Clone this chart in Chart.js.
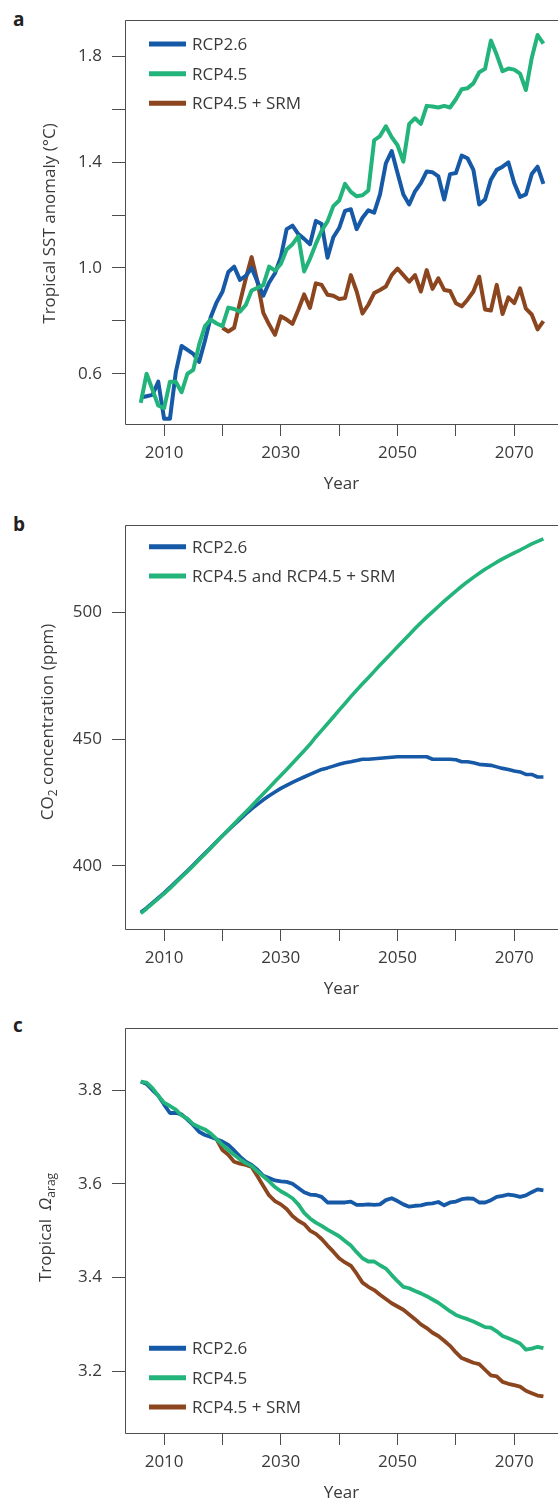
<!DOCTYPE html>
<html>
<head>
<meta charset="utf-8">
<script src="https://cdn.jsdelivr.net/npm/chart.js@4.4.1/dist/chart.umd.min.js"></script>
<style>
  html, body { margin: 0; padding: 0; background: #fff; overflow: hidden; }
  body { width: 558px; height: 1499px; position: relative; }
  canvas { position: absolute; left: 0; }
  .tag { position: absolute; left: 13px; font: bold 19px 'Open Sans', sans-serif; line-height: 19px; color: #222; }
</style>
</head>
<body>
<div class="tag" style="top:10px">a</div>
<div class="tag" style="top:515px">b</div>
<div class="tag" style="top:1016px">c</div>
<canvas id="chart-sst" width="558" height="500" style="top:0"></canvas>
<canvas id="chart-co2" width="558" height="500" style="top:505px"></canvas>
<canvas id="chart-omega" width="558" height="501" style="top:1008px"></canvas>
<script>
// ── data (one value per year) ──
const years = [2006, 2007, 2008, 2009, 2010, 2011, 2012, 2013, 2014, 2015,
  2016, 2017, 2018, 2019, 2020, 2021, 2022, 2023, 2024, 2025,
  2026, 2027, 2028, 2029, 2030, 2031, 2032, 2033, 2034, 2035,
  2036, 2037, 2038, 2039, 2040, 2041, 2042, 2043, 2044, 2045,
  2046, 2047, 2048, 2049, 2050, 2051, 2052, 2053, 2054, 2055,
  2056, 2057, 2058, 2059, 2060, 2061, 2062, 2063, 2064, 2065,
  2066, 2067, 2068, 2069, 2070, 2071, 2072, 2073, 2074, 2075];

// a: tropical SST anomaly (°C)
const sstRcp26 = [0.51, 0.515, 0.52, 0.57, 0.43, 0.43, 0.605, 0.705, 0.69, 0.675,
  0.645, 0.725, 0.815, 0.87, 0.91, 0.985, 1.005, 0.955, 0.97, 1.0,
  0.948, 0.895, 0.945, 0.98, 1.04, 1.147, 1.16, 1.128, 1.11, 1.09,
  1.178, 1.166, 1.039, 1.116, 1.151, 1.216, 1.222, 1.147, 1.19, 1.218,
  1.209, 1.278, 1.396, 1.442, 1.359, 1.278, 1.24, 1.29, 1.321, 1.365,
  1.362, 1.346, 1.259, 1.355, 1.359, 1.425, 1.415, 1.371, 1.24, 1.259,
  1.334, 1.371, 1.383, 1.399, 1.321, 1.269, 1.278, 1.355, 1.383, 1.318];
const sstRcp45 = [0.49, 0.60, 0.54, 0.48, 0.47, 0.57, 0.57, 0.53, 0.60, 0.615,
  0.71, 0.78, 0.805, 0.79, 0.78, 0.85, 0.845, 0.835, 0.86, 0.915,
  0.925, 0.935, 1.005, 0.99, 1.015, 1.07, 1.09, 1.12, 0.987, 1.035,
  1.091, 1.141, 1.176, 1.234, 1.255, 1.318, 1.288, 1.271, 1.275, 1.293,
  1.483, 1.499, 1.536, 1.495, 1.464, 1.402, 1.545, 1.566, 1.545, 1.613,
  1.611, 1.607, 1.613, 1.607, 1.638, 1.676, 1.68, 1.698, 1.74, 1.753,
  1.86, 1.806, 1.744, 1.754, 1.75, 1.735, 1.673, 1.794, 1.881, 1.848];
const sstSrm = [null, null, null, null, null, null, null, null, null, null,
  null, null, null, null, 0.774, 0.76, 0.774, 0.87, 0.96, 1.041,
  0.948, 0.83, 0.786, 0.747, 0.817, 0.805, 0.789, 0.842, 0.90, 0.849,
  0.942, 0.936, 0.899, 0.895, 0.883, 0.886, 0.973, 0.911, 0.828, 0.861,
  0.905, 0.917, 0.93, 0.973, 0.998, 0.973, 0.948, 0.973, 0.911, 0.992,
  0.921, 0.961, 0.917, 0.913, 0.867, 0.855, 0.88, 0.911, 0.967, 0.843,
  0.839, 0.936, 0.826, 0.889, 0.867, 0.923, 0.846, 0.824, 0.768, 0.799];

// b: CO2 concentration (ppm)
const co2Rcp26 = [381.5, 383.3, 385.3, 387.3, 389.3, 391.4, 393.6, 395.8, 398.0, 400.3,
  402.6, 404.9, 407.2, 409.5, 411.8, 414.0, 416.2, 418.3, 420.4, 422.4,
  424.2, 426.0, 427.6, 429.1, 430.5, 431.7, 432.9, 434.0, 435.0, 436.0,
  437.0, 438.0, 438.6, 439.3, 440.0, 440.6, 441.0, 441.5, 442.0, 442.0,
  442.2, 442.4, 442.6, 442.8, 443.0, 443.0, 443.0, 443.0, 443.0, 443.0,
  442.0, 442.0, 442.0, 442.0, 441.8, 441.0, 441.0, 440.6, 440.0, 439.8,
  439.6, 439.0, 438.4, 438.0, 437.4, 437.0, 436.0, 436.0, 435.0, 435.0];
const co2Rcp45 = [381.2, 383.0, 385.0, 387.0, 389.0, 391.0, 393.3, 395.5, 397.7, 400.0,
  402.3, 404.6, 407.0, 409.4, 411.8, 414.2, 416.5, 418.9, 421.2, 423.6,
  426.0, 428.4, 430.8, 433.2, 435.6, 438.0, 440.4, 442.9, 445.4, 447.9,
  450.8, 453.4, 456.0, 458.7, 461.4, 464.0, 466.7, 469.3, 471.8, 474.2,
  476.7, 479.2, 481.6, 484.0, 486.4, 488.8, 491.2, 493.6, 495.9, 498.1,
  500.2, 502.3, 504.4, 506.4, 508.4, 510.3, 512.1, 513.8, 515.4, 517.0,
  518.4, 519.8, 521.1, 522.3, 523.5, 524.6, 525.8, 527.0, 528.0, 529.0];

// c: tropical aragonite saturation
const omegaRcp26 = [3.818, 3.813, 3.80, 3.788, 3.769, 3.751, 3.751, 3.748, 3.737, 3.725,
  3.711, 3.704, 3.70, 3.695, 3.69, 3.683, 3.671, 3.658, 3.647, 3.64,
  3.63, 3.617, 3.612, 3.607, 3.605, 3.604, 3.60, 3.591, 3.582, 3.577,
  3.576, 3.572, 3.56, 3.56, 3.56, 3.56, 3.562, 3.555, 3.555, 3.556,
  3.555, 3.556, 3.565, 3.569, 3.563, 3.556, 3.551, 3.553, 3.554, 3.557,
  3.558, 3.561, 3.554, 3.56, 3.562, 3.567, 3.569, 3.568, 3.56, 3.56,
  3.565, 3.572, 3.574, 3.577, 3.575, 3.572, 3.575, 3.582, 3.588, 3.586];
const omegaRcp45 = [3.818, 3.816, 3.804, 3.788, 3.773, 3.766, 3.758, 3.746, 3.739, 3.727,
  3.721, 3.716, 3.707, 3.695, 3.683, 3.672, 3.662, 3.652, 3.644, 3.638,
  3.626, 3.616, 3.605, 3.593, 3.584, 3.577, 3.569, 3.556, 3.538, 3.526,
  3.517, 3.51, 3.502, 3.495, 3.488, 3.478, 3.468, 3.454, 3.441, 3.434,
  3.434, 3.426, 3.419, 3.405, 3.392, 3.38, 3.377, 3.371, 3.366, 3.36,
  3.353, 3.346, 3.337, 3.328, 3.32, 3.315, 3.311, 3.306, 3.30, 3.294,
  3.293, 3.285, 3.275, 3.27, 3.265, 3.259, 3.246, 3.248, 3.252, 3.249];
const omegaSrm = [null, null, null, null, null, null, null, null, null, null,
  null, null, null, 3.695, 3.672, 3.662, 3.647, 3.643, 3.64, 3.636,
  3.616, 3.595, 3.575, 3.563, 3.556, 3.546, 3.531, 3.521, 3.514, 3.50,
  3.493, 3.482, 3.468, 3.455, 3.441, 3.432, 3.425, 3.408, 3.389, 3.38,
  3.373, 3.363, 3.354, 3.345, 3.338, 3.331, 3.321, 3.311, 3.30, 3.292,
  3.282, 3.275, 3.265, 3.254, 3.24, 3.228, 3.223, 3.218, 3.215, 3.203,
  3.191, 3.189, 3.177, 3.173, 3.17, 3.167, 3.158, 3.153, 3.148, 3.146];

// ── ticks ──
const xTickYears = [2010, 2020, 2030, 2040, 2050, 2060, 2070];
const xTickLabels = ["2010", "", "2030", "", "2050", "", "2070"];
const sstTicks = [0.6, 0.8, 1.0, 1.2, 1.4, 1.6, 1.8];
const sstTickLabels = ["0.6", "", "1.0", "", "1.4", "", "1.8"];
const co2Ticks = [400, 450, 500];
const co2TickLabels = ["400", "450", "500"];
const omegaTicks = [3.2, 3.4, 3.6, 3.8];
const omegaTickLabels = ["3.2", "3.4", "3.6", "3.8"];

const BLUE = "#1659a6";
const GREEN = "#22b47a";
const BROWN = "#8b451f";
const AXIS = "#4d4d4d";
const TEXT = "#3a3a3a";

Chart.defaults.font.family = "'Open Sans', sans-serif";
Chart.defaults.font.size = 17;
Chart.defaults.color = TEXT;

const toPoints = vals => years.map((y, i) => ({ x: y, y: vals[i] }));

// frame (top/left/bottom; the right edge runs off the page), legend and rich y title
const decor = {
  id: "decor",
  afterDraw(chart, args, opts) {
    const { ctx, chartArea: a } = chart;
    ctx.save();
    ctx.strokeStyle = AXIS;
    ctx.lineWidth = 1;
    const l = Math.round(a.left) + 0.5, t = Math.round(a.top) + 0.5, b = Math.round(a.bottom) + 0.5;
    ctx.beginPath();
    ctx.moveTo(chart.width + 5, t); ctx.lineTo(l, t); ctx.lineTo(l, b); ctx.lineTo(chart.width + 5, b);
    ctx.stroke();

    // legend
    ctx.font = "17px 'Open Sans', sans-serif";
    ctx.textBaseline = "middle";
    ctx.fillStyle = TEXT;
    opts.legend.forEach((item, i) => {
      const y = opts.legendY[i];
      ctx.strokeStyle = item.color;
      ctx.lineWidth = 5;
      ctx.beginPath(); ctx.moveTo(149, y); ctx.lineTo(186, y); ctx.stroke();
      ctx.fillText(item.label, 192, y + 1);
    });

    // rotated y-axis title with sub/italic parts
    ctx.translate(opts.titleX, opts.titleY);
    ctx.rotate(-Math.PI / 2);
    ctx.textBaseline = "alphabetic";
    const fontOf = s => (s.italic ? "italic " : "") + (s.sub ? "12px" : "17px") + " 'Open Sans', sans-serif";
    let total = 0;
    opts.title.forEach(s => { ctx.font = fontOf(s); total += ctx.measureText(s.text).width; });
    let cx = -total / 2;
    opts.title.forEach(s => {
      ctx.font = fontOf(s);
      ctx.fillText(s.text, cx, s.sub ? 4 : 0);
      cx += ctx.measureText(s.text).width;
    });
    ctx.restore();
  }
};

function makePanel(id, datasets, y, extra) {
  return new Chart(document.getElementById(id), {
    type: "line",
    data: { datasets },
    options: {
      responsive: false,
      animation: false,
      devicePixelRatio: 1,
      events: [],
      layout: { padding: { top: 15, right: 0, bottom: 0, left: 0 } },
      elements: { point: { radius: 0 }, line: { tension: 0, borderJoinStyle: "round" } },
      plugins: { legend: { display: false }, tooltip: { enabled: false }, decor: extra },
      scales: {
        x: {
          type: "linear", min: 2003.3, max: 2077.5,
          afterBuildTicks: ax => { ax.ticks = xTickYears.map(v => ({ value: v })); },
          afterFit: sc => { sc.height = 76; },
          ticks: { padding: 7, maxRotation: 0, autoSkip: false, callback: (v, i) => xTickLabels[i] },
          grid: { drawOnChartArea: false, drawTicks: true, tickLength: 12, color: AXIS },
          border: { display: false },
          title: { display: true, text: "Year", padding: { top: 0, bottom: 6 } }
        },
        y: {
          type: "linear", min: y.min, max: y.max,
          afterBuildTicks: ax => { ax.ticks = y.ticks.map(v => ({ value: v })); },
          afterFit: sc => { sc.width = 125; },
          ticks: { padding: 10, autoSkip: false, callback: (v, i) => y.labels[i] },
          grid: { drawOnChartArea: false, drawTicks: true, tickLength: 13, color: AXIS },
          border: { display: false }
        }
      }
    },
    plugins: [decor]
  });
}

const line = (label, vals, color, order, width) => ({
  label, data: toPoints(vals), borderColor: color, borderWidth: width, order, fill: false
});

makePanel("chart-sst", [
  line("RCP2.6", sstRcp26, BLUE, 1, 4),
  line("RCP4.5", sstRcp45, GREEN, 0, 4),
  line("RCP4.5 + SRM", sstSrm, BROWN, 2, 4)
], { min: 0.41, max: 1.937, ticks: sstTicks, labels: sstTickLabels }, {
  legend: [{ label: "RCP2.6", color: BLUE }, { label: "RCP4.5", color: GREEN }, { label: "RCP4.5 + SRM", color: BROWN }],
  legendY: [44, 73.7, 103.3],
  title: [{ text: "Tropical SST anomaly (°C)" }],
  titleX: 55, titleY: 223.5
});

makePanel("chart-co2", [
  line("RCP2.6", co2Rcp26, BLUE, 1, 3.6),
  line("RCP4.5 and RCP4.5 + SRM", co2Rcp45, GREEN, 0, 3.6)
], { min: 375, max: 534.4, ticks: co2Ticks, labels: co2TickLabels }, {
  legend: [{ label: "RCP2.6", color: BLUE }, { label: "RCP4.5 and RCP4.5 + SRM", color: GREEN }],
  legendY: [41.7, 71],
  title: [{ text: "CO" }, { text: "2", sub: true }, { text: " concentration (ppm)" }],
  titleX: 53, titleY: 217
});

makePanel("chart-omega", [
  line("RCP2.6", omegaRcp26, BLUE, 1, 3.8),
  line("RCP4.5", omegaRcp45, GREEN, 0, 3.8),
  line("RCP4.5 + SRM", omegaSrm, BROWN, 2, 3.8)
], { min: 3.068, max: 3.932, ticks: omegaTicks, labels: omegaTickLabels }, {
  legend: [{ label: "RCP2.6", color: BLUE }, { label: "RCP4.5", color: GREEN }, { label: "RCP4.5 + SRM", color: BROWN }],
  legendY: [340.3, 369.7, 399],
  title: [{ text: "Tropical  " }, { text: "Ω", italic: true }, { text: "arag", sub: true }],
  titleX: 51, titleY: 219.5
});
</script>
</body>
</html>
